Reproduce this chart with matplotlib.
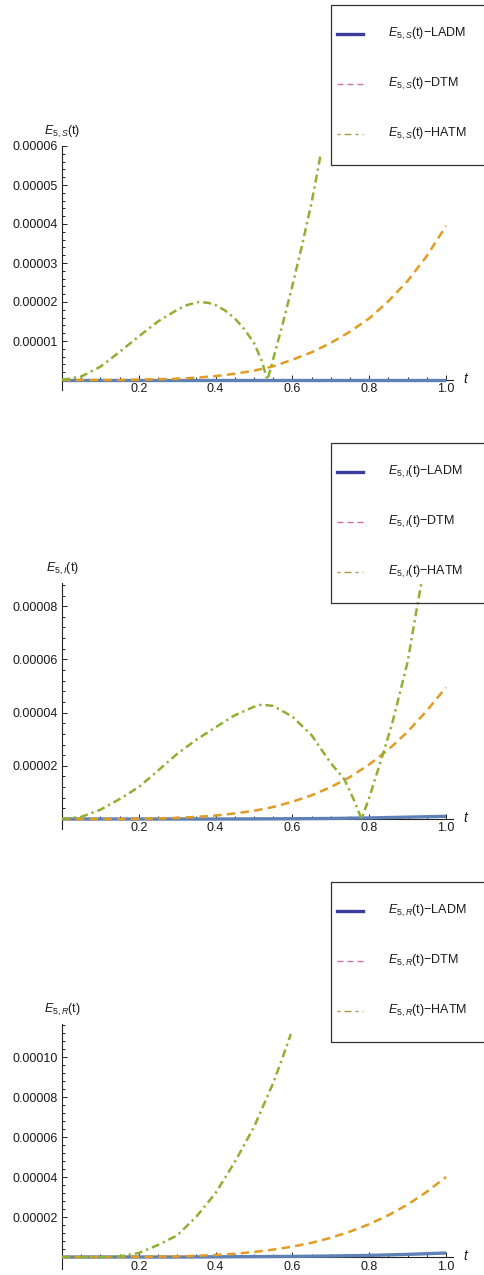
import numpy as np
import matplotlib
matplotlib.use('Agg')
import matplotlib.pyplot as plt
from matplotlib.lines import Line2D
from matplotlib.patches import Rectangle
from matplotlib.ticker import FixedLocator

plt.rcParams['font.family'] = ['Liberation Sans', 'DejaVu Sans']
plt.rcParams['mathtext.fontset'] = 'custom'
plt.rcParams['mathtext.rm'] = 'Liberation Sans'
plt.rcParams['mathtext.it'] = 'Liberation Sans:italic'
plt.rcParams['font.size'] = 9

# Datos (errores, en unidades de 1e-5)
t_grid = [0, 0.05, 0.1, 0.15, 0.2, 0.25, 0.3, 0.35, 0.4, 0.45, 0.5,
          0.55, 0.6, 0.65, 0.7, 0.75, 0.8, 0.85, 0.9, 0.95, 1.0]
t_coarse = [0, 0.1, 0.2, 0.3, 0.4, 0.5, 0.6, 0.7, 0.8, 0.9, 1.0]

# Panel S
s_ladm = [0, 0, 0, 0, 0, 0, 0, 0, 0, 0, 0]
s_dtm = [0, 0, 0, 0, 0.01, 0.02, 0.03, 0.06, 0.1, 0.16, 0.24,
         0.35, 0.52, 0.71, 0.95, 1.24, 1.58, 2.02, 2.54, 3.18, 3.95]
s_hatm_t = [0, 0.05, 0.1, 0.15, 0.2, 0.25, 0.3, 0.325, 0.355, 0.38, 0.4, 0.425,
            0.45, 0.475, 0.5, 0.52, 0.535, 0.55, 0.575, 0.6, 0.625, 0.65, 0.673]
s_hatm = [0, 0.09, 0.34, 0.72, 1.12, 1.5, 1.8, 1.92, 2.0, 1.98, 1.92, 1.78,
          1.58, 1.3, 0.95, 0.5, 0, 0.54, 1.45, 2.42, 3.45, 4.55, 5.75]

# Panel I
i_ladm = [0, 0, 0, 0, 0, 0.005, 0.01, 0.02, 0.04, 0.07, 0.1]
i_dtm = [0, 0, 0, 0, 0.01, 0.02, 0.04, 0.08, 0.13, 0.21, 0.31,
         0.45, 0.65, 0.89, 1.2, 1.58, 2.05, 2.61, 3.28, 4.07, 4.95]
i_hatm_t = [0, 0.05, 0.1, 0.15, 0.2, 0.25, 0.3, 0.35, 0.4, 0.45, 0.5, 0.52,
            0.55, 0.6, 0.65, 0.7, 0.735, 0.76, 0.78, 0.8, 0.835, 0.86, 0.9,
            0.925, 0.95]
i_hatm = [0, 0.08, 0.35, 0.75, 1.2, 1.82, 2.45, 2.98, 3.45, 3.9, 4.22, 4.3,
          4.25, 3.85, 3.15, 2.1, 1.5, 0.72, 0, 0.8, 2.4, 3.6, 5.9, 8.0, 10.0]

# Panel R
r_ladm = [0, 0, 0, 0, 0.01, 0.02, 0.03, 0.05, 0.08, 0.13, 0.2]
r_dtm = [0, 0, 0, 0, 0.01, 0.02, 0.03, 0.06, 0.1, 0.16, 0.25,
         0.37, 0.52, 0.71, 0.96, 1.27, 1.64, 2.09, 2.62, 3.26, 4.0]
r_hatm_t = [0, 0.05, 0.1, 0.15, 0.2, 0.25, 0.3, 0.35, 0.4, 0.45, 0.5, 0.55,
            0.575, 0.596]
r_hatm = [0, 0, 0, 0.03, 0.2, 0.6, 1.08, 2.02, 3.2, 4.75, 6.5, 8.7, 10.0, 11.15]

x_ticks = [0.2, 0.4, 0.6, 0.8, 1.0]
x_tick_labels = ['0.2', '0.4', '0.6', '0.8', '1.0']

W, H = 485, 1275
fig = plt.figure(figsize=(W / 100, H / 100), dpi=100)

col_ladm, col_dtm, col_hatm = '#5e81b5', '#e19c24', '#8fb032'
leg_ladm, leg_dtm, leg_hatm = '#3c3ca0', '#c874a6', '#a89a48'
txt_col = '#1a1a1a'


def add_panel(top, axis_y, bottom, px_per_unit, yticks, ylabels, minor_step,
              sub, ladm, dtm, hatm_t, hatm, leg_top, label_off):
    left, right = 62, 453
    ax = fig.add_axes([left / W, 1 - bottom / H, (right - left) / W, (bottom - top) / H])
    ymax = (axis_y - top) / px_per_unit * 1e-5
    ymin = -(bottom - axis_y) / px_per_unit * 1e-5
    ax.set_xlim(0, (right - left) / 384)
    ax.set_ylim(ymin, ymax)
    ax.patch.set_alpha(0)

    ax.plot(t_coarse, np.array(ladm) * 1e-5, color=col_ladm, lw=2.4, zorder=3,
            solid_capstyle='butt')
    ax.plot(t_grid, np.array(dtm) * 1e-5, color=col_dtm, lw=1.8, zorder=4,
            linestyle=(0, (3.4, 2.1)))
    ax.plot(hatm_t, np.array(hatm) * 1e-5, color=col_hatm, lw=1.8, zorder=5,
            linestyle=(0, (3.2, 1.6, 0.9, 1.6)))

    for s in ['top', 'right']:
        ax.spines[s].set_visible(False)
    ax.spines['bottom'].set_position(('data', 0))
    for s in ['left', 'bottom']:
        ax.spines[s].set_color('#222222')
        ax.spines[s].set_linewidth(0.8)

    ax.set_xticks(x_ticks)
    ax.set_xticklabels(x_tick_labels)
    ax.xaxis.set_minor_locator(FixedLocator(np.arange(0.05, 1.001, 0.05)))
    ax.set_yticks(yticks)
    ax.set_yticklabels(ylabels)
    ax.yaxis.set_minor_locator(FixedLocator(np.arange(minor_step, ymax, minor_step)))
    ax.tick_params(which='both', direction='in', color='#222222', width=0.7,
                   labelcolor=txt_col, labelsize=9)
    ax.tick_params(which='major', length=3.5)
    ax.tick_params(which='minor', length=2)
    ax.tick_params(axis='x', pad=label_off)
    ax.tick_params(axis='y', pad=3)

    ax.annotate(r'$E_{5,%s}$(t)' % sub, xy=(0, 1), xycoords='axes fraction',
                xytext=(0, 6), textcoords='offset pixels', ha='center', va='bottom',
                color=txt_col, fontsize=9)
    ax.annotate('t', xy=(1, 0), xycoords=('axes fraction', 'data'),
                xytext=(12, 1), textcoords='offset pixels', ha='center', va='center',
                style='italic', color=txt_col, fontsize=10)

    # leyenda
    box = Rectangle((331 / W, 1 - (leg_top + 160) / H), 170 / W, 160 / H,
                    transform=fig.transFigure, fill=False, edgecolor='#333333',
                    lw=0.9, clip_on=False)
    fig.add_artist(box)
    entries = [
        (leg_ladm, 2.4, '-', 'LADM'),
        (leg_dtm, 1.0, (0, (4.3, 2.9)), 'DTM'),
        (leg_hatm, 1.0, (0, (2.2, 2.9, 5.0, 2.9)), 'HATM'),
    ]
    for k, (c, lw, ls, name) in enumerate(entries):
        yy = 1 - (leg_top + 29 + 50 * k) / H
        fig.add_artist(Line2D([337 / W, 363 / W], [yy, yy], transform=fig.transFigure,
                              color=c, lw=lw, linestyle=ls))
        fig.text(388 / W, yy, r'$E_{5,%s}$(t)−%s' % (sub, name), ha='left',
                 va='center', color=txt_col, fontsize=9)
    return ax


add_panel(146, 380, 390, 39.0,
          [1e-5, 2e-5, 3e-5, 4e-5, 5e-5, 6e-5],
          ['0.00001', '0.00002', '0.00003', '0.00004', '0.00005', '0.00006'],
          0.2e-5, 'S', s_ladm, s_dtm, s_hatm_t, s_hatm, 5, 2.5)
add_panel(583, 819, 829, 26.6,
          [2e-5, 4e-5, 6e-5, 8e-5],
          ['0.00002', '0.00004', '0.00006', '0.00008'],
          0.4e-5, 'I', i_ladm, i_dtm, i_hatm_t, i_hatm, 443, 2.0)
add_panel(1024, 1257, 1269, 20.0,
          [2e-5, 4e-5, 6e-5, 8e-5, 10e-5],
          ['0.00002', '0.00004', '0.00006', '0.00008', '0.00010'],
          0.4e-5, 'R', r_ladm, r_dtm, r_hatm_t, r_hatm, 882, 3.0)

fig.savefig('out.png', dpi=100)
